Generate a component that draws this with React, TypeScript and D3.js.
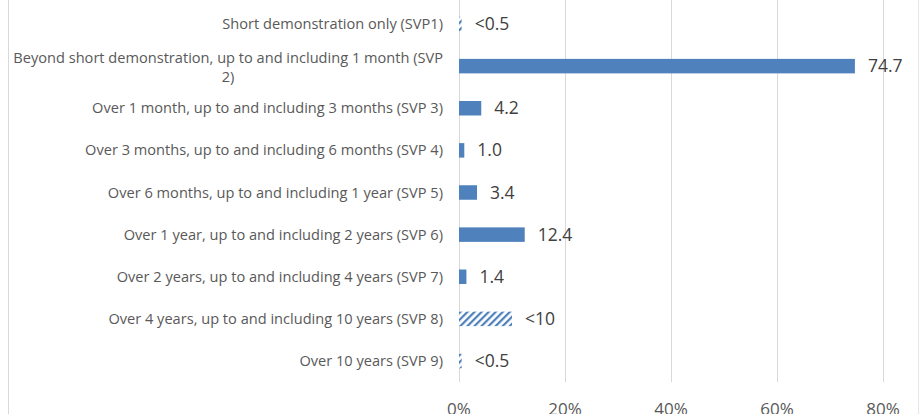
import React from "react";
import { scaleLinear, scalePoint } from "d3";

// categories (SVP groups), top to bottom
const categories = [
  "Short demonstration only (SVP1)",
  "Beyond short demonstration, up to and including 1 month (SVP 2)",
  "Over 1 month, up to and including 3 months (SVP 3)",
  "Over 3 months, up to and including 6 months (SVP 4)",
  "Over 6 months, up to and including 1 year (SVP 5)",
  "Over 1 year, up to and including 2 years (SVP 6)",
  "Over 2 years, up to and including 4 years (SVP 7)",
  "Over 4 years, up to and including 10 years (SVP 8)",
  "Over 10 years (SVP 9)",
];
// share in percent
const values = [0.5, 74.7, 4.2, 1.0, 3.4, 12.4, 1.4, 10, 0.5];
const valueLabels = ["<0.5", "74.7", "4.2", "1.0", "3.4", "12.4", "1.4", "<10", "<0.5"];
// estimated values (upper bounds) are drawn hatched
const estimated = [true, false, false, false, false, false, false, true, true];
const ticks = [0, 20, 40, 60, 80];

const W = 921;
const H = 414;
const BLUE = "#4f81bd";
const FONT = "'Open Sans', sans-serif";

// long category label gets wrapped like in the original
function wrapLabel(label: string): string[] {
  if (label.length > 55) {
    const cut = label.lastIndexOf(" ");
    return [label.slice(0, cut), label.slice(cut + 1)];
  }
  return [label];
}

export default function App() {
  const x = scaleLinear().domain([0, 80]).range([459, 883]);
  const y = scalePoint<string>().domain(categories).range([24, 361]);
  const barH = 14.5;
  const plotTop = 0;
  const plotBottom = 382;

  return (
    <svg width={W} height={H} style={{ display: "block", position: "absolute", left: 0, top: 0 }}>
      <defs>
        <pattern id="hatch" patternUnits="userSpaceOnUse" width="5" height="5" patternTransform="rotate(45)">
          <rect width="5" height="5" fill="#fff" />
          <rect x="0" y="0" width="2.2" height="5" fill={BLUE} />
        </pattern>
      </defs>
      <rect x={0} y={0} width={W} height={H} fill="#fff" />
      {/* chart border */}
      <line x1={8.5} x2={8.5} y1={0} y2={H} stroke="#d9d9d9" />
      <line x1={918.5} x2={918.5} y1={0} y2={H} stroke="#e6e6e6" />

      {/* gridlines */}
      {ticks.map((t) => (
        <line
          key={t}
          x1={Math.round(x(t)) + 0.5}
          x2={Math.round(x(t)) + 0.5}
          y1={plotTop}
          y2={plotBottom}
          stroke="#d9d9d9"
          strokeWidth={1}
        />
      ))}

      {/* tick labels (cut by the picture edge, as in the original) */}
      {ticks.map((t) => (
        <text key={"t" + t} x={x(t)} y={415} textAnchor="middle" fontFamily={FONT} fontSize={17} fill="#595959">
          {t}%
        </text>
      ))}

      {/* bars */}
      {categories.map((c, i) => (
        <rect
          key={"b" + i}
          x={x(0)}
          y={(y(c) as number) - barH / 2}
          width={x(values[i]) - x(0)}
          height={barH}
          fill={estimated[i] ? "url(#hatch)" : BLUE}
        />
      ))}

      {/* value labels */}
      {categories.map((c, i) => (
        <text
          key={"v" + i}
          x={x(values[i]) + 13}
          y={(y(c) as number) + 6}
          fontFamily={FONT}
          fontSize={17.5}
          fill="#404040"
        >
          {valueLabels[i]}
        </text>
      ))}

      {/* category labels */}
      {categories.map((c, i) => {
        const lines = wrapLabel(c);
        const cy = y(c) as number;
        if (lines.length === 1) {
          return (
            <text key={"c" + i} x={443} y={cy + 5} textAnchor="end" fontFamily={FONT} fontSize={14.6} fill="#595959">
              {c}
            </text>
          );
        }
        return (
          <g key={"c" + i} fontFamily={FONT} fontSize={14.6} fill="#595959">
            <text x={443} y={cy - 3.5} textAnchor="end">
              {lines[0]}
            </text>
            <text x={228} y={cy + 15.5} textAnchor="middle">
              {lines[1]}
            </text>
          </g>
        );
      })}
    </svg>
  );
}
